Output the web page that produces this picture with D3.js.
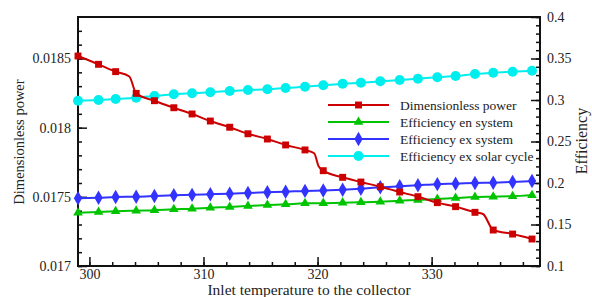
<!DOCTYPE html>
<html>
<head>
<meta charset="utf-8">
<script src="https://cdn.jsdelivr.net/npm/d3@7"></script>
<style>
  body { margin: 0; background: #fff; }
  text { font-family: "Liberation Serif", "Times New Roman", serif; fill: #222; }
</style>
</head>
<body>
<div id="chart"></div>
<script>
// inlet temperature at each marker
const temps = [299, 300.8, 302.3, 304.1, 305.7, 307.4, 309, 310.6, 312.3, 313.9, 315.6, 317.2,
    318.9, 320.5, 322.2, 323.8, 325.5, 327.2, 328.8, 330.5, 332.1, 333.8, 335.4, 337.1, 338.8]

const dimPower = [0.018518, 0.018458, 0.018405, 0.018248, 0.018195, 0.018144, 0.018099, 0.018048,
    0.018003, 0.017956, 0.017918, 0.017875, 0.017839, 0.017689, 0.017641, 0.017607, 0.017573,
    0.017535, 0.017501, 0.017458, 0.017429, 0.017388, 0.01726, 0.017231, 0.017195]

// extra points on the red curve where it drops between markers
const powerKneeT = [303.5, 319.7, 320.1, 334.5]
const powerKneeV = [0.01837, 0.017815, 0.01772, 0.017376]

const effEnSystem = [0.1642, 0.1651, 0.1659, 0.1666, 0.1671, 0.1683, 0.1689, 0.1702, 0.1711, 0.1723,
    0.1735, 0.1743, 0.1755, 0.1757, 0.1763, 0.1768, 0.1775, 0.1787, 0.1795, 0.1807, 0.1819, 0.1831,
    0.1835, 0.1840, 0.1852]

const effExSystem = [0.1816, 0.1823, 0.1831, 0.1835, 0.1843, 0.1852, 0.1857, 0.1864, 0.1871, 0.1880,
    0.1888, 0.1895, 0.1905, 0.1910, 0.1919, 0.1931, 0.1948, 0.1960, 0.1972, 0.1986, 0.1992, 0.2000,
    0.2004, 0.2012, 0.2024]

const effExSolar = [0.2992, 0.3000, 0.3012, 0.3028, 0.3048, 0.3069, 0.3081, 0.3093, 0.3108, 0.3120,
    0.3129, 0.3145, 0.3160, 0.3177, 0.3196, 0.3208, 0.3225, 0.3241, 0.3257, 0.3275, 0.3289, 0.3313,
    0.3329, 0.3341, 0.3353]

const xTicks = [300, 310, 320, 330]
const leftTicks = [0.017, 0.0175, 0.018, 0.0185]
const leftLabels = ["0.017", "0.0175", "0.018", "0.0185"]
const rightTicks = [0.1, 0.15, 0.2, 0.25, 0.3, 0.35, 0.4]
const rightLabels = ["0.1", "0.15", "0.2", "0.25", "0.3", "0.35", "0.4"]

const seriesNames = ["Dimensionless power", "Efficiency en system", "Efficiency ex system", "Efficiency ex solar cycle"]

const width = 592
const height = 297
const plotL = 78, plotR = 540, plotT = 17, plotB = 266

const svg = d3.select("#chart").append("svg")
    .attr("width", width)
    .attr("height", height)

const x = d3.scaleLinear().domain([299, 339.5]).range([plotL, plotR])
const yL = d3.scaleLinear().domain([0.017, 0.0188]).range([plotB, plotT])
const yR = d3.scaleLinear().domain([0.1, 0.4]).range([plotB, plotT])

// axes: ticks point into the frame
const tickStyle = g => {
    g.select(".domain").remove()
    g.selectAll("line").attr("stroke", "#111").attr("stroke-width", 1.5)
    g.selectAll("text").style("font-size", "14px").attr("fill", "#222")
}

svg.append("g").attr("transform", `translate(0,${plotB})`)
    .call(d3.axisBottom(x).tickValues(d3.range(300, 340, 2)).tickSize(-4).tickFormat(""))
    .call(tickStyle)
svg.append("g").attr("transform", `translate(0,${plotB})`)
    .call(d3.axisBottom(x).tickValues(xTicks).tickSize(-9).tickPadding(3).tickFormat(d3.format("d")))
    .call(tickStyle)

svg.append("g").attr("transform", `translate(${plotL},0)`)
    .call(d3.axisLeft(yL).tickValues(d3.range(170, 188).map(d => d / 10000)).tickSize(-4).tickFormat(""))
    .call(tickStyle)
svg.append("g").attr("transform", `translate(${plotL},0)`)
    .call(d3.axisLeft(yL).tickValues(leftTicks).tickSize(-9).tickPadding(7).tickFormat((d, i) => leftLabels[i]))
    .call(tickStyle)

svg.append("g").attr("transform", `translate(${plotR},0)`)
    .call(d3.axisRight(yR).tickValues(d3.range(10, 41).map(d => d / 100)).tickSize(-4).tickFormat(""))
    .call(tickStyle)
svg.append("g").attr("transform", `translate(${plotR},0)`)
    .call(d3.axisRight(yR).tickValues(rightTicks).tickSize(-9).tickPadding(7).tickFormat((d, i) => rightLabels[i]))
    .call(tickStyle)

// frame
svg.append("rect")
    .attr("x", plotL).attr("y", plotT)
    .attr("width", plotR - plotL).attr("height", plotB - plotT)
    .attr("fill", "none").attr("stroke", "#111").attr("stroke-width", 2)

const colors = ["#cc0000", "#00c400", "#3333ff", "#00eeee"]

const squarePath = d3.symbol(d3.symbolSquare, 48)()
const trianglePath = d3.symbol(d3.symbolTriangle, 40)()
const diamondPath = d3.symbol(d3.symbolDiamond, 60)()

const plot = svg.append("g")

const drawSeries = (vals, yScale, color, marker, lineData) => {
    const line = d3.line().x(d => x(d[0])).y(d => yScale(d[1])).curve(d3.curveMonotoneX)
    const pts = temps.map((t, i) => [t, vals[i]])
    plot.append("path")
        .datum(lineData || pts)
        .attr("d", line)
        .attr("fill", "none")
        .attr("stroke", color)
        .attr("stroke-width", 2)
    const m = plot.append("g").selectAll("g")
        .data(pts)
        .enter()
    if (marker === "circle") {
        m.append("circle")
            .attr("cx", d => x(d[0])).attr("cy", d => yScale(d[1]))
            .attr("r", 5).attr("fill", color)
    } else {
        m.append("path")
            .attr("d", marker)
            .attr("transform", d => `translate(${x(d[0])},${yScale(d[1])})`)
            .attr("fill", color)
    }
}

const powerLine = temps.map((t, i) => [t, dimPower[i]])
    .concat(powerKneeT.map((t, i) => [t, powerKneeV[i]]))
    .sort((a, b) => a[0] - b[0])

drawSeries(effEnSystem, yR, colors[1], trianglePath)
drawSeries(effExSystem, yR, colors[2], diamondPath)
drawSeries(effExSolar, yR, colors[3], "circle")
drawSeries(dimPower, yL, colors[0], squarePath, powerLine)

// legend
const legend = svg.append("g").attr("transform", "translate(328,105)")
const markers = [squarePath, trianglePath, diamondPath, "circle"]
seriesNames.forEach((name, i) => {
    const row = legend.append("g").attr("transform", `translate(0,${i * 17})`)
    row.append("line").attr("x1", 0).attr("x2", 61).attr("y1", 0).attr("y2", 0)
        .attr("stroke", colors[i]).attr("stroke-width", 2)
    if (markers[i] === "circle") {
        row.append("circle").attr("cx", 30.5).attr("cy", 0).attr("r", 5).attr("fill", colors[i])
    } else {
        row.append("path").attr("d", markers[i]).attr("transform", "translate(30.5,0)").attr("fill", colors[i])
    }
    row.append("text").attr("x", 72).attr("y", 0).attr("dy", "0.35em")
        .style("font-size", "13.5px").text(name)
})

// axis titles
svg.append("text")
    .attr("transform", "translate(19,142) rotate(-90)")
    .attr("text-anchor", "middle").attr("dy", "0.35em")
    .style("font-size", "14.5px")
    .text("Dimensionless power")

svg.append("text")
    .attr("transform", "translate(581,141) rotate(-90)")
    .attr("text-anchor", "middle").attr("dy", "0.35em")
    .style("font-size", "16px")
    .text("Efficiency")

svg.append("text")
    .attr("x", (plotL + plotR) / 2).attr("y", 295)
    .attr("text-anchor", "middle")
    .style("font-size", "15.5px")
    .text("Inlet temperature to the collector")
</script>
</body>
</html>
